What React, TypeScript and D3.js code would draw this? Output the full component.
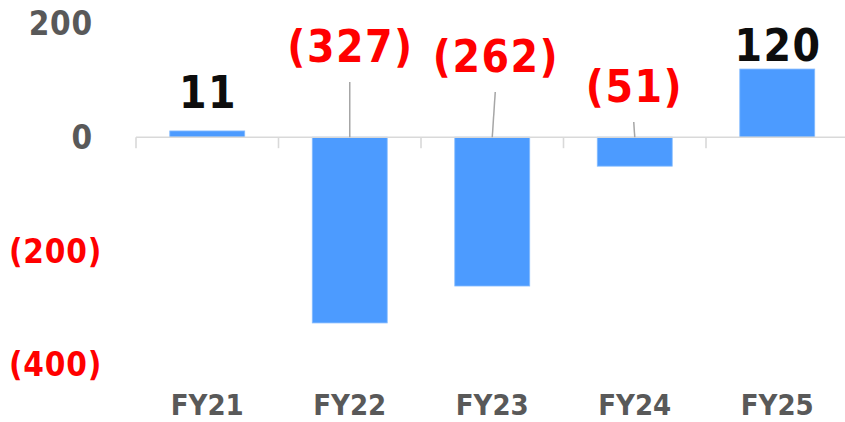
import React, { useEffect, useRef } from "react";
import * as d3 from "d3";

const categories = ["FY21", "FY22", "FY23", "FY24", "FY25"];
const values = [11, -327, -262, -51, 120];
const yTicks = [200, 0, -200, -400];

// label baselines (px) for each value label and small x nudges
const labelBaseline = [108, 62, 72, 102, 61];
const labelNudge = [0, 0, 3, -1, 0];

const fmt = (v: number) => (v < 0 ? `(${Math.abs(v)})` : `${v}`);

export default function App() {
  const ref = useRef<SVGSVGElement>(null);

  useEffect(() => {
    const width = 845;
    const height = 422;
    const font = "'DejaVu Sans Condensed', 'DejaVu Sans', sans-serif";
    const svg = d3.select(ref.current);
    svg.selectAll("*").remove();

    const x = d3
      .scaleBand()
      .domain(categories)
      .range([136, 848.5])
      .paddingInner(0.474)
      .paddingOuter(0.237);

    const y = d3.scaleLinear().domain([-400, 200]).range([364.4, 23.6]);
    const y0 = y(0);

    // bars
    svg
      .selectAll("rect.bar")
      .data(values)
      .enter()
      .append("rect")
      .attr("class", "bar")
      .attr("x", (d, i) => x(categories[i])!)
      .attr("y", (d) => Math.min(y(d), y0))
      .attr("width", x.bandwidth())
      .attr("height", (d) => Math.abs(y(d) - y0))
      .attr("fill", "#4C9BFF")
      .attr("stroke", "#86bcff")
      .attr("stroke-width", 0.8);

    // category axis
    const axisG = svg.append("g").attr("transform", `translate(0,${y0})`);
    axisG
      .append("line")
      .attr("x1", 136)
      .attr("x2", width)
      .attr("stroke", "#d9d9d9")
      .attr("stroke-width", 1.6);
    const step = x.step();
    axisG
      .selectAll("line.tick")
      .data(d3.range(categories.length + 1))
      .enter()
      .append("line")
      .attr("class", "tick")
      .attr("x1", (i) => 136 + i * step)
      .attr("x2", (i) => 136 + i * step)
      .attr("y1", 0)
      .attr("y2", 11)
      .attr("stroke", "#d9d9d9")
      .attr("stroke-width", 1.6);

    svg
      .selectAll("text.cat")
      .data(categories)
      .enter()
      .append("text")
      .attr("class", "cat")
      .attr("x", (d) => x(d)! + x.bandwidth() / 2)
      .attr("y", 414.5)
      .attr("text-anchor", "middle")
      .attr("font-family", font)
      .attr("font-weight", "bold")
      .attr("font-size", 29)
      .attr("fill", "#595959")
      .text((d) => d);

    // value axis labels
    svg
      .selectAll("text.ytick")
      .data(yTicks)
      .enter()
      .append("text")
      .attr("class", "ytick")
      .attr("x", (d) => (d < 0 ? 102 : 93))
      .attr("y", (d) => y(d))
      .attr("dy", "0.36em")
      .attr("text-anchor", "end")
      .attr("font-family", font)
      .attr("font-weight", "bold")
      .attr("font-size", 33)
      .attr("letter-spacing", 0.8)
      .attr("fill", (d) => (d < 0 ? "#FF0000" : "#595959"))
      .text((d) => fmt(d));

    // leader lines for negative labels
    values.forEach((v, i) => {
      if (v >= 0) return;
      const cx = x(categories[i])! + x.bandwidth() / 2;
      svg
        .append("line")
        .attr("x1", cx + labelNudge[i])
        .attr("y1", labelBaseline[i] + 20)
        .attr("x2", cx)
        .attr("y2", y0)
        .attr("stroke", "#a6a6a6")
        .attr("stroke-width", 1.5);
    });

    // value labels
    svg
      .selectAll("text.val")
      .data(values)
      .enter()
      .append("text")
      .attr("class", "val")
      .attr("x", (d, i) => x(categories[i])! + x.bandwidth() / 2 + labelNudge[i] + 0.75)
      .attr("y", (d, i) => labelBaseline[i])
      .attr("text-anchor", "middle")
      .attr("font-family", font)
      .attr("font-weight", "bold")
      .attr("font-size", 44)
      .attr("letter-spacing", 1.5)
      .attr("fill", (d) => (d < 0 ? "#FF0000" : "#0D0D0D"))
      .text((d) => fmt(d));

    svg.attr("width", width).attr("height", height);
  }, []);

  return (
    <svg
      ref={ref}
      width={845}
      height={422}
      style={{ position: "absolute", left: 0, top: 0, background: "#fff" }}
    />
  );
}
